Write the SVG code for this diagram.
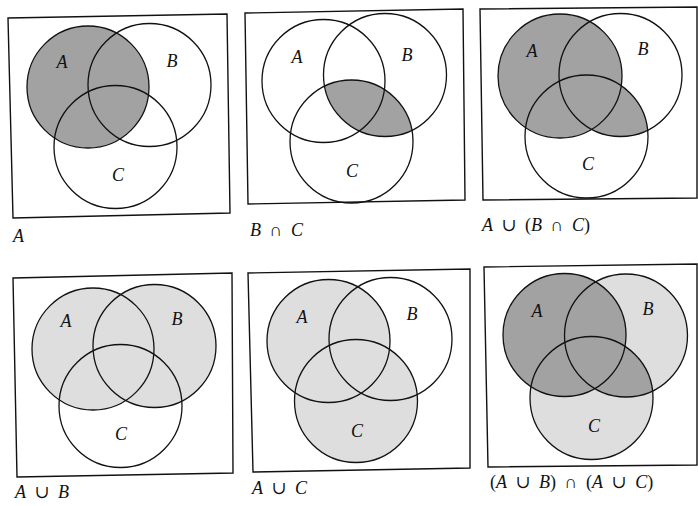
<svg xmlns="http://www.w3.org/2000/svg" width="698" height="506" viewBox="0 0 698 506">
<style>
.box{fill:none;stroke:#111;stroke-width:1.4}
.c{fill:none;stroke:#111;stroke-width:1.3}
.dk{fill:#a2a2a2}
.lt{fill:#dedede}
text{font-family:"Liberation Serif","Times New Roman","DejaVu Serif",serif;font-size:18px;fill:#111}
.lbl{font-style:italic;text-anchor:middle}
.cap{word-spacing:4px}
.i{font-style:italic}
</style>
<defs>
<clipPath id="p2B"><circle cx="385" cy="75" r="61.5"/></clipPath>
<clipPath id="p3B"><circle cx="620.5" cy="75" r="61.5"/></clipPath>
<clipPath id="p6B"><circle cx="626" cy="335.5" r="61.5"/></clipPath>
</defs>
<rect width="698" height="506" fill="#fff"/>

<g id="panel-A">
<polygon class="box" points="8,18 227,14 230,213 13,218"/>
<circle class="dk" cx="88" cy="87" r="61"/>
<circle class="c" cx="88" cy="87" r="61"/>
<circle class="c" cx="149.5" cy="85" r="61.5"/>
<circle class="c" cx="115.5" cy="147" r="61.5"/>
<text class="lbl" x="62" y="68">A</text>
<text class="lbl" x="172" y="67">B</text>
<text class="lbl" x="118" y="181">C</text>
<text class="cap" x="13" y="242"><tspan class="i">A</tspan></text>
</g>

<g id="panel-BnC">
<polygon class="box" points="245,13 463,9 465,200 248,204"/>
<circle class="dk" cx="351.5" cy="141.5" r="61.5" clip-path="url(#p2B)"/>
<circle class="c" cx="323.5" cy="81" r="61.5"/>
<circle class="c" cx="385" cy="75" r="61.5"/>
<circle class="c" cx="351.5" cy="141.5" r="61.5"/>
<text class="lbl" x="297" y="63">A</text>
<text class="lbl" x="407" y="61">B</text>
<text class="lbl" x="352" y="177">C</text>
<text class="cap" x="250" y="236"><tspan class="i">B</tspan> ∩ <tspan class="i">C</tspan></text>
</g>

<g id="panel-AuBnC">
<polygon class="box" points="480,9 697,7 697,198 483,200"/>
<circle class="dk" cx="560" cy="76" r="62"/>
<circle class="dk" cx="586.5" cy="136.5" r="61.5" clip-path="url(#p3B)"/>
<circle class="c" cx="560" cy="76" r="62"/>
<circle class="c" cx="620.5" cy="75" r="61.5"/>
<circle class="c" cx="586.5" cy="136.5" r="61.5"/>
<text class="lbl" x="532" y="57">A</text>
<text class="lbl" x="643" y="55">B</text>
<text class="lbl" x="588" y="170">C</text>
<text class="cap" x="482" y="231"><tspan class="i">A</tspan> ∪ (<tspan class="i">B</tspan> ∩ <tspan class="i">C</tspan>)</text>
</g>

<g id="panel-AuB">
<polygon class="box" points="13,278 232,273 233,473 17,477"/>
<circle class="lt" cx="93" cy="349" r="61"/>
<circle class="lt" cx="154.5" cy="346" r="61.5"/>
<circle class="c" cx="93" cy="349" r="61"/>
<circle class="c" cx="154.5" cy="346" r="61.5"/>
<circle class="c" cx="120.5" cy="406" r="61.5"/>
<text class="lbl" x="66" y="327">A</text>
<text class="lbl" x="177" y="325">B</text>
<text class="lbl" x="121" y="440">C</text>
<text class="cap" x="15" y="498"><tspan class="i">A</tspan> ∪ <tspan class="i">B</tspan></text>
</g>

<g id="panel-AuC">
<polygon class="box" points="248,273 470,269 470,468 253,472"/>
<circle class="lt" cx="328.5" cy="341" r="61.5"/>
<circle class="lt" cx="356" cy="401" r="61.5"/>
<circle class="c" cx="328.5" cy="341" r="61.5"/>
<circle class="c" cx="390.5" cy="339" r="61.5"/>
<circle class="c" cx="356" cy="401" r="61.5"/>
<text class="lbl" x="302" y="323">A</text>
<text class="lbl" x="412" y="320">B</text>
<text class="lbl" x="357" y="437">C</text>
<text class="cap" x="252" y="494"><tspan class="i">A</tspan> ∪ <tspan class="i">C</tspan></text>
</g>

<g id="panel-AuB-n-AuC">
<polygon class="box" points="484,267 697,264 697,465 488,467"/>
<circle class="lt" cx="626" cy="335.5" r="61.5"/>
<circle class="lt" cx="591.5" cy="398" r="61.5"/>
<circle class="dk" cx="564.5" cy="335" r="61.5"/>
<circle class="dk" cx="591.5" cy="398" r="61.5" clip-path="url(#p6B)"/>
<circle class="c" cx="564.5" cy="335" r="61.5"/>
<circle class="c" cx="626" cy="335.5" r="61.5"/>
<circle class="c" cx="591.5" cy="398" r="61.5"/>
<text class="lbl" x="537" y="317">A</text>
<text class="lbl" x="648" y="315">B</text>
<text class="lbl" x="594" y="432">C</text>
<text class="cap" x="490" y="488">(<tspan class="i">A</tspan> ∪ <tspan class="i">B</tspan>) ∩ (<tspan class="i">A</tspan> ∪ <tspan class="i">C</tspan>)</text>
</g>
</svg>
